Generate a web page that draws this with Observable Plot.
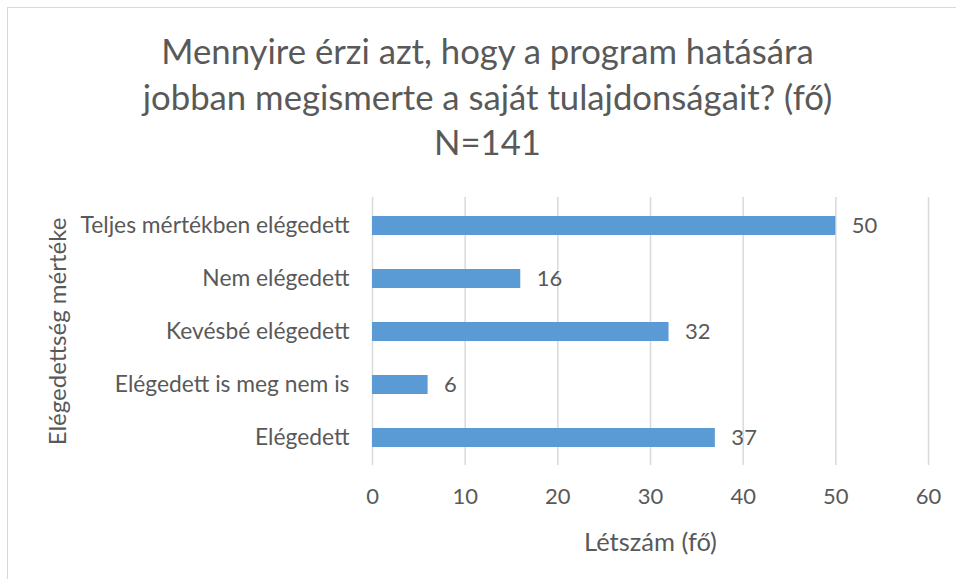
<!DOCTYPE html>
<html>
<head>
<meta charset="utf-8">
<script src="https://cdn.jsdelivr.net/npm/d3@7"></script>
<script src="https://cdn.jsdelivr.net/npm/@observablehq/plot@0.6"></script>
<style>
  html, body { margin: 0; padding: 0; background: #ffffff; }
  #wrap { position: relative; width: 956px; height: 579px; overflow: hidden; background: #ffffff; font-family: Lato, "Open Sans", sans-serif; }
  #frame { position: absolute; left: 7px; top: 7px; width: 1000px; height: 700px; border-left: 1.5px solid #d9d9d9; border-top: 1.5px solid #d9d9d9; box-sizing: border-box; }
  #title { position: relative; height: 180px; box-sizing: border-box; padding-top: 28px; padding-left: 19px; text-align: center; color: #595959; font-size: 34.7px; line-height: 45.5px; }
  #chart { position: relative; }
  #chart svg { display: block; }
</style>
</head>
<body>
<div id="wrap">
  <div id="frame"></div>
  <div id="title"></div>
  <div id="chart"></div>
</div>
<script>
const titleLines = ["Mennyire érzi azt, hogy a program hatására", "jobban megismerte a saját tulajdonságait? (fő)", "N=141"];
const categories = ["Teljes mértékben elégedett", "Nem elégedett", "Kevésbé elégedett", "Elégedett is meg nem is", "Elégedett"];
const values = [50, 16, 32, 6, 37];
const xTicks = [0, 10, 20, 30, 40, 50, 60];
const xTitle = "Létszám (fő)";
const yTitle = "Elégedettség mértéke";

const titleEl = document.getElementById("title");
titleLines.forEach(t => { const d = document.createElement("div"); d.textContent = t; titleEl.appendChild(d); });

const data = categories.map((c, i) => ({cat: c, value: values[i]}));

const chart = Plot.plot({
  width: 956,
  height: 399,
  marginTop: 17,
  marginBottom: 114,
  marginLeft: 372,
  marginRight: 28,
  style: {fontFamily: "Lato, 'Open Sans', sans-serif", fontSize: "23px", color: "#595959", background: "transparent"},
  x: {domain: [0, 60], ticks: xTicks, label: null},
  y: {domain: categories, label: null, paddingInner: 0.65, paddingOuter: 0.325},
  marks: [
    Plot.gridX(xTicks, {stroke: "#d9d9d9", strokeOpacity: 1, strokeWidth: 1.5}),
    Plot.barX(data, {x: "value", y: "cat", fill: "#5b9bd5"}),
    Plot.text(data, {x: "value", y: "cat", text: d => String(d.value), textAnchor: "start", dx: 16, fill: "#595959", fontSize: 22}),
    Plot.axisX({ticks: xTicks, tickSize: 0, tickPadding: 23, fontSize: 22, label: null}),
    Plot.axisY({tickSize: 0, tickPadding: 23, fontSize: 22.8, label: null}),
    Plot.text([xTitle], {frameAnchor: "bottom", lineAnchor: "middle", textAnchor: "middle", dy: 77, fontSize: 25.5, fill: "#595959"}),
    Plot.text([yTitle], {frameAnchor: "left", lineAnchor: "middle", textAnchor: "middle", dx: -314, rotate: -90, fontSize: 24, fill: "#595959"})
  ]
});
document.getElementById("chart").appendChild(chart);
</script>
</body>
</html>
